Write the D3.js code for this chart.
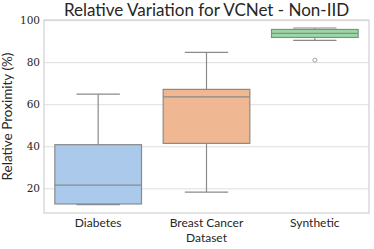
<!DOCTYPE html>
<html>
<head>
<meta charset="utf-8">
<script src="https://cdn.jsdelivr.net/npm/d3@7"></script>
<style>
  body { margin: 0; background: #fff; }
  svg text { font-family: Lato, "Open Sans", sans-serif; fill: #262626; }
</style>
</head>
<body>
<div id="chart"></div>
<script>
// box stats
var categories = ["Diabetes", "Breast Cancer", "Synthetic"];
var whiskLow  = [12.5, 18.4, 90.6];
var q1        = [12.8, 41.6, 92.0];
var median    = [21.8, 63.7, 93.9];
var q3        = [41.0, 67.3, 95.8];
var whiskHigh = [65.0, 84.9, 96.5];
var outliers  = [[], [], [81.2]];
var colors    = ["#abc9ea", "#efb792", "#98daa7"];
var yTicks    = [20, 40, 60, 80, 100];

var margin = { top: 20, right: 5, bottom: 36, left: 44 };
var width = 374 - margin.left - margin.right,
    height = 249 - margin.top - margin.bottom;

var svg = d3.select("#chart").append("svg")
    .attr("width", 374)
    .attr("height", 249)
    .append("g")
    .attr("transform", "translate(" + margin.left + "," + margin.top + ")");

var x = d3.scaleBand()
    .domain(categories)
    .range([0, width])
    .paddingInner(0)
    .paddingOuter(0);

var y = d3.scaleLinear()
    .domain([8.5, 100.3])
    .range([height, 0]);

// grid
svg.selectAll(".grid")
    .data(yTicks)
    .enter().append("line")
    .attr("x1", 0).attr("x2", width)
    .attr("y1", function(d) { return y(d); })
    .attr("y2", function(d) { return y(d); })
    .attr("stroke", "#dedede")
    .attr("stroke-width", 1);

// frame
svg.append("rect")
    .attr("x", 0).attr("y", 0)
    .attr("width", width).attr("height", height)
    .attr("fill", "none")
    .attr("stroke", "#d0d0d0")
    .attr("stroke-width", 1.2);

var boxW = x.bandwidth() * 0.8;
var capW = boxW / 2;
var lineCol = "#8a8a8a";

var data = categories.map(function(c, i) {
    return { cat: c, lo: whiskLow[i], q1: q1[i], med: median[i], q3: q3[i],
             hi: whiskHigh[i], out: outliers[i], color: colors[i] };
});

var g = svg.selectAll(".box")
    .data(data)
    .enter().append("g")
    .attr("transform", function(d) { return "translate(" + (x(d.cat) + x.bandwidth() / 2) + ",0)"; });

// whiskers
g.append("line")
    .attr("x1", 0).attr("x2", 0)
    .attr("y1", function(d) { return y(d.hi); })
    .attr("y2", function(d) { return y(d.q3); })
    .attr("stroke", lineCol).attr("stroke-width", 1.2);
g.append("line")
    .attr("x1", 0).attr("x2", 0)
    .attr("y1", function(d) { return y(d.q1); })
    .attr("y2", function(d) { return y(d.lo); })
    .attr("stroke", lineCol).attr("stroke-width", 1.2);
g.append("line")
    .attr("x1", -capW / 2).attr("x2", capW / 2)
    .attr("y1", function(d) { return y(d.hi); })
    .attr("y2", function(d) { return y(d.hi); })
    .attr("stroke", lineCol).attr("stroke-width", 1.2);
g.append("line")
    .attr("x1", -capW / 2).attr("x2", capW / 2)
    .attr("y1", function(d) { return y(d.lo); })
    .attr("y2", function(d) { return y(d.lo); })
    .attr("stroke", lineCol).attr("stroke-width", 1.2);

// box
g.append("rect")
    .attr("x", -boxW / 2)
    .attr("width", boxW)
    .attr("y", function(d) { return y(d.q3); })
    .attr("height", function(d) { return y(d.q1) - y(d.q3); })
    .attr("fill", function(d) { return d.color; })
    .attr("stroke", lineCol).attr("stroke-width", 1.2);

// median
g.append("line")
    .attr("x1", -boxW / 2).attr("x2", boxW / 2)
    .attr("y1", function(d) { return y(d.med); })
    .attr("y2", function(d) { return y(d.med); })
    .attr("stroke", lineCol).attr("stroke-width", 1.2);

// outliers
g.selectAll(".out")
    .data(function(d) { return d.out; })
    .enter().append("circle")
    .attr("cx", 0)
    .attr("cy", function(d) { return y(d); })
    .attr("r", 2)
    .attr("fill", "none")
    .attr("stroke", lineCol).attr("stroke-width", 0.8);

// y tick labels
svg.selectAll(".ytick")
    .data(yTicks)
    .enter().append("text")
    .attr("x", -4)
    .attr("y", function(d) { return y(d); })
    .attr("dy", "0.35em")
    .attr("text-anchor", "end")
    .style("font-family", "'DejaVu Serif', serif")
    .style("font-size", "10.5px")
    .text(function(d) { return d; });

// x tick labels
svg.selectAll(".xtick")
    .data(categories)
    .enter().append("text")
    .attr("x", function(d) { return x(d) + x.bandwidth() / 2; })
    .attr("y", height + 14)
    .attr("text-anchor", "middle")
    .style("font-size", "12px")
    .text(function(d) { return d; });

// axis titles
svg.append("text")
    .attr("x", width / 2)
    .attr("y", height + 29)
    .attr("text-anchor", "middle")
    .style("font-size", "12px")
    .text("Dataset");

svg.append("text")
    .attr("transform", "translate(" + (-32) + "," + (height / 2) + ") rotate(-90)")
    .attr("text-anchor", "middle")
    .style("font-size", "13.5px")
    .text("Relative Proximity (%)");

svg.append("text")
    .attr("x", width / 2)
    .attr("y", -4)
    .attr("text-anchor", "middle")
    .style("font-size", "17px")
    .text("Relative Variation for VCNet - Non-IID");
</script>
</body>
</html>
